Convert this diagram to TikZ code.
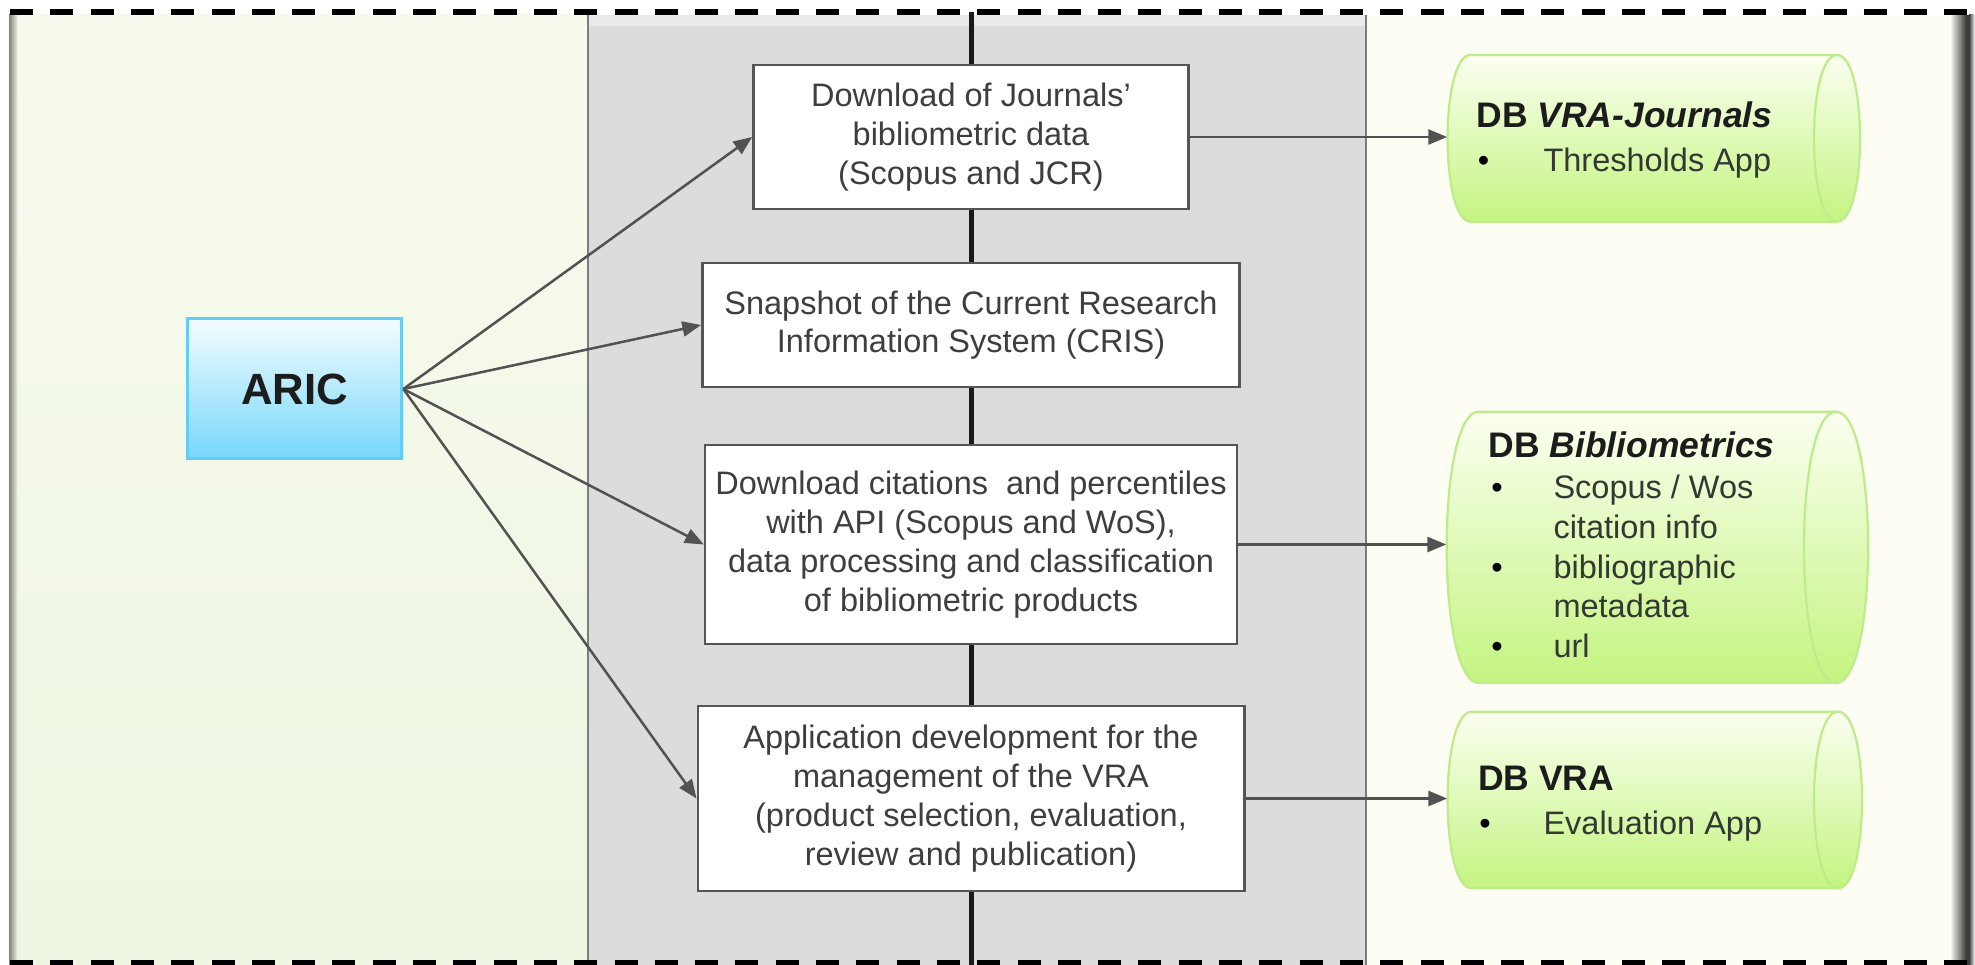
\documentclass[tikz,border=0pt]{standalone}
\usepackage{fontspec}
\setmainfont{Liberation Sans}
\usetikzlibrary{arrows.meta}
\definecolor{lefttop}{RGB}{247,251,238}
\definecolor{leftbot}{RGB}{238,245,226}
\definecolor{greypanel}{RGB}{220,220,220}
\definecolor{greytop}{RGB}{234,234,234}
\definecolor{rightpanel}{RGB}{253,253,243}
\definecolor{borderdark}{RGB}{130,130,122}
\definecolor{borderdarkR}{RGB}{60,60,60}
\definecolor{panelline}{RGB}{125,125,125}
\definecolor{boxline}{RGB}{85,85,85}
\definecolor{boxtext}{RGB}{62,62,62}
\definecolor{arrowcol}{RGB}{82,82,82}
\definecolor{spinecol}{RGB}{25,25,25}
\definecolor{arictop}{RGB}{244,253,255}
\definecolor{aricbot}{RGB}{118,215,250}
\definecolor{aricline}{RGB}{100,205,245}
\definecolor{dbtop}{RGB}{251,255,240}
\definecolor{dbbot}{RGB}{196,244,128}
\definecolor{dbline}{RGB}{190,236,140}
\definecolor{titlecol}{RGB}{28,28,28}
\definecolor{itemcol}{RGB}{52,56,50}
\tikzset{
  procbox/.style={draw=boxline, line width=1pt, fill=white, align=center,
    text=boxtext, font=\fontsize{13}{15.5}\selectfont, inner sep=0pt},
  aricbox/.style={draw=aricline, line width=1.2pt, top color=arictop,
    bottom color=aricbot, inner sep=0pt, text=titlecol,
    font=\fontsize{17.5}{20}\selectfont\bfseries},
  flow/.style={draw=arrowcol, line width=1pt, -{Triangle[length=7.5pt,width=6pt]}},
  spine/.style={draw=spinecol, line width=2pt},
  dbshape/.style={draw=dbline, line width=0.9pt, top color=dbtop, bottom color=dbbot},
  dbinner/.style={draw=dbline, line width=0.9pt},
  dbanchor/.style={rectangle, draw=none, inner sep=0pt},
  dbtitle/.style={anchor=base west, inner sep=0pt,
    font=\fontsize{14.2}{17}\selectfont\bfseries, text=titlecol},
  dbitem/.style={anchor=base west, inner sep=0pt,
    font=\fontsize{13}{15.5}\selectfont, text=itemcol},
  dbbullet/.style={anchor=base, inner sep=0pt,
    font=\fontsize{13}{15.5}\selectfont, text=black},
  framedash/.style={draw=black, line width=2.4pt, dash pattern=on 9.2pt off 6.92pt},
}
\begin{document}
\begin{tikzpicture}[x=0.4pt,y=-0.4pt]
\useasboundingbox (0,0) rectangle (1975,965);
\fill[white] (0,0) rectangle (1975,965);
% panels
\shade[top color=lefttop, bottom color=leftbot] (9,15) rectangle (588,965);
\fill[greypanel] (588,15) rectangle (1366,965);
\fill[greytop] (588,15) rectangle (1366,26);
\fill[rightpanel] (1366,15) rectangle (1975,965);
\shade[left color=borderdark, right color=lefttop] (9,15) rectangle (18,965);
\shade[left color=rightpanel, right color=borderdarkR] (1950,15) rectangle (1966,965);
\fill[borderdarkR] (1966,15) rectangle (1969,965);
\shade[left color=borderdarkR, right color=white] (1969,15) rectangle (1975,965);
\draw[panelline, line width=0.8pt] (588,15) -- (588,965);
\draw[panelline, line width=0.8pt] (1366,15) -- (1366,965);

% spine end points
\coordinate (stop) at (971,12);
\coordinate (sbot) at (971,965);

% process boxes
\node[procbox, minimum width=174pt, minimum height=57.6pt] (b1) at (971,137)
  {Download of Journals'\\bibliometric data\\(Scopus and JCR)};
\node[procbox, minimum width=214.9pt, minimum height=49.6pt] (b2) at (971,325)
  {Snapshot of the Current Research\\Information System (CRIS)};
\node[procbox, minimum width=212.8pt, minimum height=79.6pt] (b3) at (971,544.5)
  {Download citations\ \ and percentiles\\with API (Scopus and WoS),\\data processing and classification\\of bibliometric products};
\node[procbox, minimum width=218.6pt, minimum height=74pt] (b4) at (971,798.5)
  {Application development for the\\management of the VRA\\(product selection, evaluation,\\review and publication)};

% spine
\draw[spine] (stop) -- (b1.north);
\draw[spine] (b1.south) -- (b2.north);
\draw[spine] (b2.south) -- (b3.north);
\draw[spine] (b3.south) -- (b4.north);
\draw[spine] (b4.south) -- (sbot);

% ARIC
\node[aricbox, minimum width=85.7pt, minimum height=56pt] (aric) at (294.7,389) {ARIC};

% databases (cylinder drawings)
\path[dbshape] (1470.6,55) -- (1837,55) .. controls (1867.7,55) and (1867.7,221.7) .. (1837,221.7)
  -- (1470.6,221.7) .. controls (1439.9,221.7) and (1439.9,55) .. (1470.6,55) -- cycle;
\draw[dbinner] (1837,55) .. controls (1806.3,55) and (1806.3,221.7) .. (1837,221.7);
\node[dbanchor, minimum width=164.96pt, minimum height=66.68pt] (db1) at (1653.8,138.35) {};

\path[dbshape] (1478.7,411.7) -- (1836,411.7) .. controls (1878.7,411.7) and (1878.7,683) .. (1836,683)
  -- (1478.7,683) .. controls (1436,683) and (1436,411.7) .. (1478.7,411.7) -- cycle;
\draw[dbinner] (1836,411.7) .. controls (1793.3,411.7) and (1793.3,683) .. (1836,683);
\node[dbanchor, minimum width=168.52pt, minimum height=108.52pt] (db2) at (1657.35,547.35) {};

\path[dbshape] (1471.6,711.7) -- (1838,711.7) .. controls (1870,711.7) and (1870,888.3) .. (1838,888.3)
  -- (1471.6,888.3) .. controls (1439.6,888.3) and (1439.6,711.7) .. (1471.6,711.7) -- cycle;
\draw[dbinner] (1838,711.7) .. controls (1806,711.7) and (1806,888.3) .. (1838,888.3);
\node[dbanchor, minimum width=165.76pt, minimum height=70.64pt] (db3) at (1654.8,800) {};

% database texts
\node[dbtitle] (db1t) at (1476,128) {DB \textit{VRA-Journals}};
\node[dbbullet] (db1b1) at (1483.5,172) {\textbullet};
\node[dbitem] (db1i1) at (1543,172) {Thresholds App};

\node[dbtitle] (db2t) at (1488,458) {DB \textit{Bibliometrics}};
\node[dbbullet] (db2b1) at (1497,499) {\textbullet};
\node[dbitem] (db2i1) at (1553,499) {Scopus / Wos};
\node[dbitem] (db2i2) at (1553,538.5) {citation info};
\node[dbbullet] (db2b2) at (1497,578) {\textbullet};
\node[dbitem] (db2i3) at (1553,578) {bibliographic};
\node[dbitem] (db2i4) at (1553,617.5) {metadata};
\node[dbbullet] (db2b3) at (1497,657) {\textbullet};
\node[dbitem] (db2i5) at (1553,657) {url};

\node[dbtitle] (db3t) at (1477.5,790) {DB VRA};
\node[dbbullet] (db3b1) at (1485,834) {\textbullet};
\node[dbitem] (db3i1) at (1543,834) {Evaluation App};

% connectors
\draw[flow] (aric.east) -- (b1.west);
\draw[flow] (aric.east) -- (b2.west);
\draw[flow] (aric.east) -- (b3.west);
\draw[flow] (aric.east) -- (b4.west);
\draw[flow] (b1.east) -- (b1.east -| db1.west);
\draw[flow] (b3.east) -- (b3.east -| db2.west);
\draw[flow] (b4.east) -- (b4.east -| db3.west);

% dashed frame lines
\draw[framedash] (10,12) -- (1975,12);
\draw[framedash] (10,962.5) -- (1975,962.5);
\end{tikzpicture}
\end{document}
